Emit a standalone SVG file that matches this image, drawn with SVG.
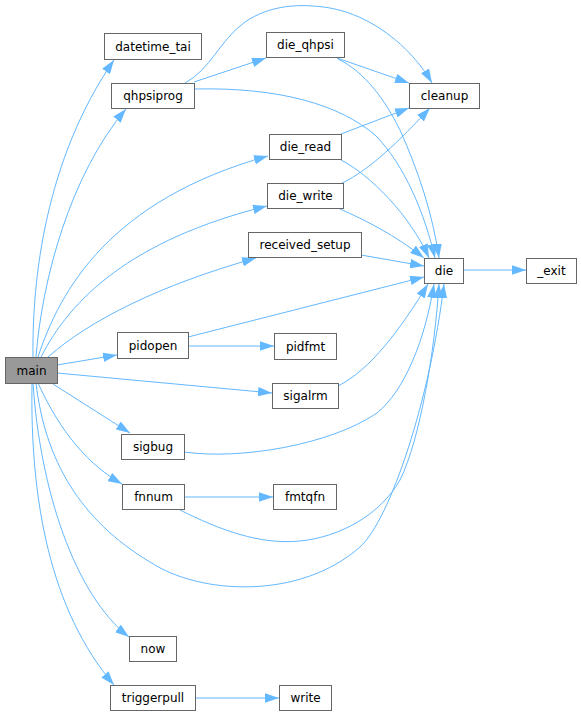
<svg xmlns="http://www.w3.org/2000/svg" width="581" height="717" viewBox="0 0 581 717">
<style>
.node rect{fill:#ffffff;stroke:#666666;stroke-width:1}
.node.main rect{fill:#999999}
.node text{font-family:"DejaVu Sans",sans-serif;font-size:12px;fill:#000000;text-anchor:middle}
.edge{fill:none;stroke:#63b8ff;stroke-width:1;marker-end:url(#arr)}
</style>
<defs>
<marker id="arr" viewBox="0 0 14 9.5" refX="14" refY="4.75" markerWidth="14" markerHeight="9.5" markerUnits="userSpaceOnUse" orient="auto">
<path d="M0,0 L14,4.75 L0,9.5 z" fill="#63b8ff"/>
</marker>
</defs>
<rect width="581" height="717" fill="#ffffff"/>
<g id="edges">
<path class="edge" d="M33,357 C32,280 45,160 114,60"/>
<path class="edge" d="M36,357 C42,280 70,175 126,109"/>
<path class="edge" d="M38,357 C60,290 110,200 268,156"/>
<path class="edge" d="M41,357 C70,300 130,240 267,206"/>
<path class="edge" d="M48,357 C90,320 160,285 256,258"/>
<path class="edge" d="M57,365 L117,355"/>
<path class="edge" d="M57,373 L272,393"/>
<path class="edge" d="M53,384 L130,433"/>
<path class="edge" d="M38,383 C55,420 80,460 122,484"/>
<path class="edge" d="M36,383 C45,460 80,520 150,562 C200,595 300,600 360,547 C390,520 430,400 444,284"/>
<path class="edge" d="M33,383 C40,490 75,595 129,637"/>
<path class="edge" d="M32,383 C30,500 50,610 114,685"/>
<path class="edge" d="M194,82 L266,58"/>
<path class="edge" d="M185,83 C210,70 220,40 245,22 C270,5 300,3 330,8 C370,15 410,45 432,83"/>
<path class="edge" d="M194,89 C280,87 340,105 375,135 C405,165 425,215 435,258"/>
<path class="edge" d="M337,58 L409,83"/>
<path class="edge" d="M338,59 C365,72 385,100 400,130 C418,170 433,215 439,258"/>
<path class="edge" d="M341,134 L409,108"/>
<path class="edge" d="M341,160 C370,175 410,215 429,258"/>
<path class="edge" d="M342,183 C370,170 400,140 430,108"/>
<path class="edge" d="M340,209 C365,220 395,235 424,258"/>
<path class="edge" d="M361,255 L424,266"/>
<path class="edge" d="M188,337 L424,277"/>
<path class="edge" d="M188,346 L274,346"/>
<path class="edge" d="M338,386 C370,370 400,330 428,284"/>
<path class="edge" d="M184,452 C240,460 330,445 377,413 C405,390 425,340 434,284"/>
<path class="edge" d="M180,510 C220,530 260,545 300,541 C340,537 380,515 400,480 C420,440 435,350 439,284"/>
<path class="edge" d="M184,497 L273,497"/>
<path class="edge" d="M195,698 L279,698"/>
<path class="edge" d="M463,270 L526,270"/>
</g>
<g id="datetime_tai" class="node"><rect x="104.5" y="33.5" width="97" height="26"/><text x="153" y="51">datetime_tai</text></g>
<g id="qhpsiprog" class="node"><rect x="111.5" y="83.5" width="83" height="25"/><text x="153" y="100">qhpsiprog</text></g>
<g id="die_qhpsi" class="node"><rect x="266.5" y="32.5" width="78" height="25"/><text x="305.5" y="49">die_qhpsi</text></g>
<g id="cleanup" class="node"><rect x="409.5" y="83.5" width="70" height="25"/><text x="444.5" y="100">cleanup</text></g>
<g id="die_read" class="node"><rect x="269.5" y="134.5" width="72" height="25"/><text x="305.5" y="151">die_read</text></g>
<g id="die_write" class="node"><rect x="267.5" y="183.5" width="76" height="25"/><text x="305.5" y="200">die_write</text></g>
<g id="received_setup" class="node"><rect x="248.5" y="232.5" width="113" height="25"/><text x="305" y="249">received_setup</text></g>
<g id="die" class="node"><rect x="424.5" y="258.5" width="39" height="25"/><text x="444" y="275">die</text></g>
<g id="_exit" class="node"><rect x="526.5" y="258.5" width="50" height="25"/><text x="551.5" y="275">_exit</text></g>
<g id="main" class="node main"><rect x="5.5" y="357.5" width="52" height="26"/><text x="31.5" y="375">main</text></g>
<g id="pidopen" class="node"><rect x="117.5" y="332.5" width="71" height="26"/><text x="153" y="350">pidopen</text></g>
<g id="pidfmt" class="node"><rect x="274.5" y="333.5" width="62" height="26"/><text x="305.5" y="351">pidfmt</text></g>
<g id="sigalrm" class="node"><rect x="272.5" y="383.5" width="66" height="25"/><text x="305.5" y="400">sigalrm</text></g>
<g id="sigbug" class="node"><rect x="121.5" y="434.5" width="63" height="25"/><text x="153" y="451">sigbug</text></g>
<g id="fnnum" class="node"><rect x="122.5" y="484.5" width="62" height="25"/><text x="153.5" y="501">fnnum</text></g>
<g id="fmtqfn" class="node"><rect x="273.5" y="484.5" width="63" height="25"/><text x="305" y="501">fmtqfn</text></g>
<g id="now" class="node"><rect x="129.5" y="636.5" width="47" height="25"/><text x="153" y="653">now</text></g>
<g id="triggerpull" class="node"><rect x="110.5" y="685.5" width="85" height="25"/><text x="153" y="702">triggerpull</text></g>
<g id="write" class="node"><rect x="279.5" y="685.5" width="52" height="25"/><text x="305.5" y="702">write</text></g>
</svg>
